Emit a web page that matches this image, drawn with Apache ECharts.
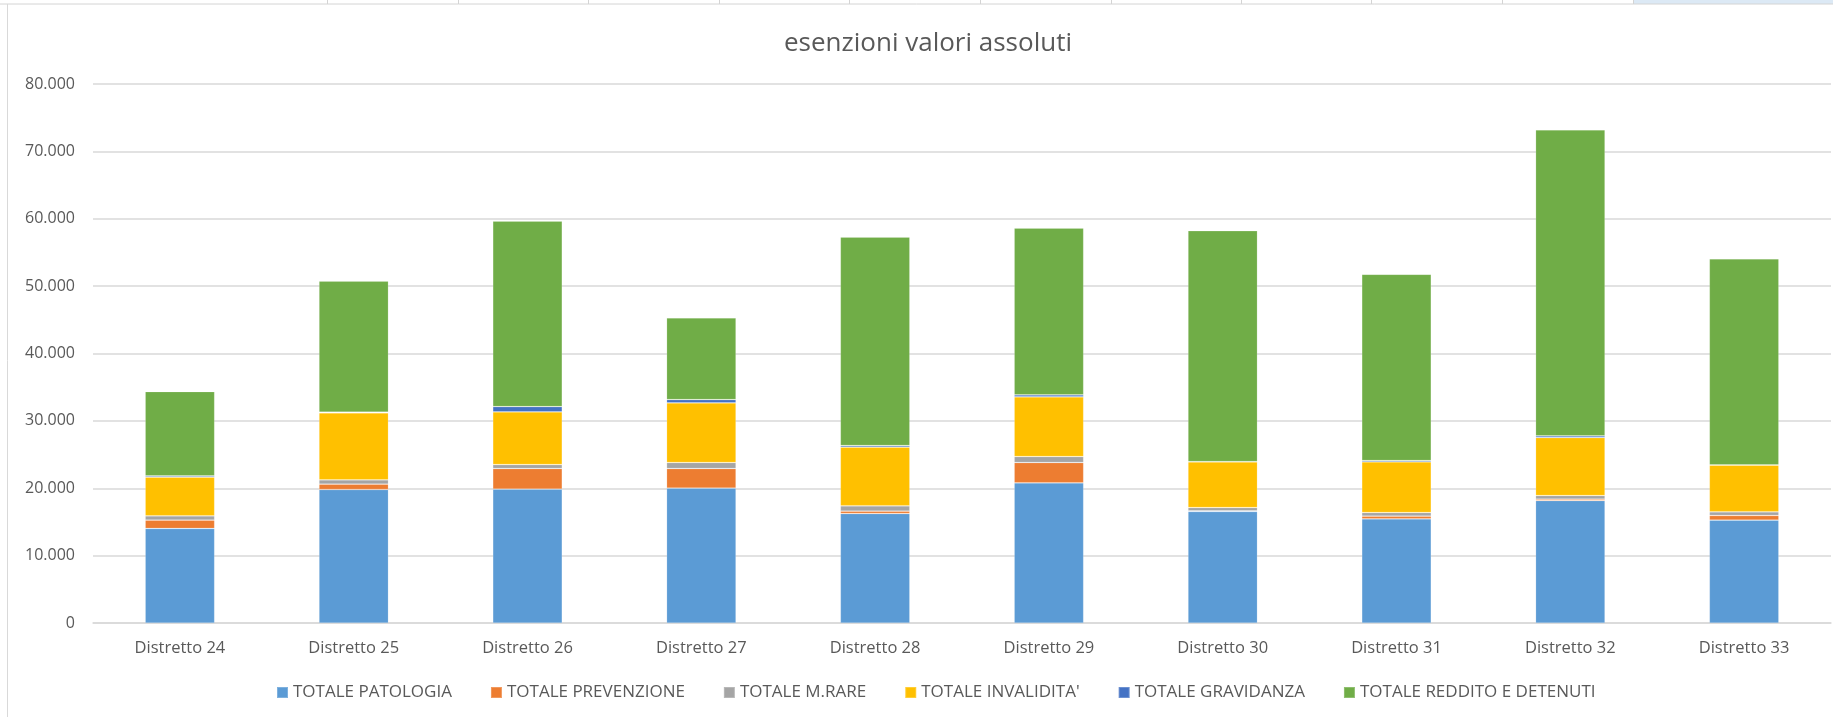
<!DOCTYPE html>
<html>
<head>
<meta charset="utf-8">
<script src="https://cdn.jsdelivr.net/npm/echarts@6/dist/echarts.min.js"></script>
<style>
html,body{margin:0;padding:0;background:#fff;}
#chart{width:1833px;height:717px;}
</style>
</head>
<body>
<div id="chart"></div>
<script>
const categories = ['Distretto 24','Distretto 25','Distretto 26','Distretto 27','Distretto 28','Distretto 29','Distretto 30','Distretto 31','Distretto 32','Distretto 33'];
const patologia   = [14030, 19810, 19870, 20020, 16250, 20810, 16550, 15470, 18180, 15270];
const prevenzione = [1250, 800, 3060, 2910, 360, 3010, 100, 400, 210, 690];
const mrare       = [630, 640, 590, 890, 790, 890, 490, 530, 530, 550];
const invalidita  = [5740, 9940, 7820, 8850, 8700, 8850, 6780, 7520, 8600, 6920];
const gravidanza  = [190, 100, 780, 490, 240, 300, 40, 190, 260, 30];
const reddito     = [12510, 19470, 27540, 12120, 30950, 24760, 34260, 27650, 45420, 30600];
const seriesNames = ['TOTALE PATOLOGIA','TOTALE PREVENZIONE','TOTALE M.RARE',"TOTALE INVALIDITA'",'TOTALE GRAVIDANZA','TOTALE REDDITO E DETENUTI'];
const yTicks = [0, 10000, 20000, 30000, 40000, 50000, 60000, 70000, 80000];

const colors = ['#5B9BD5','#ED7D31','#A5A5A5','#FFC000','#4472C4','#70AD47'];
const dataSets = [patologia, prevenzione, mrare, invalidita, gravidanza, reddito];

const chart = echarts.init(document.getElementById('chart'), null, {renderer:'canvas'});
const font = '"Open Sans", "Noto Sans", sans-serif';

function fmt(v){ return String(v).replace(/\B(?=(\d{3})+(?!\d))/g, '.'); }

const cellXs = [327, 458, 588, 719, 849, 980, 1111, 1241, 1371, 1502, 1633];
const graphics = [
  {type:'rect', shape:{x:1633, y:0, width:200, height:4}, style:{fill:'#dce9f5'}, silent:true},
  {type:'line', shape:{x1:0, y1:4, x2:1833, y2:4}, style:{stroke:'#d4d4d4', lineWidth:1}, silent:true},
  {type:'line', shape:{x1:7.5, y1:4, x2:7.5, y2:717}, style:{stroke:'#d9d9d9', lineWidth:1}, silent:true}
];
cellXs.forEach(x => graphics.push({type:'line', shape:{x1:x+0.5, y1:0, x2:x+0.5, y2:4}, style:{stroke:'#d4d4d4', lineWidth:1}, silent:true}));

chart.setOption({
  animation:false,
  backgroundColor:'#fff',
  color: colors,
  title:{
    text:'esenzioni valori assoluti',
    left:928, top:31, textAlign:'center', padding:0,
    textStyle:{fontFamily:font, fontSize:26, fontWeight:'normal', color:'#595959'}
  },
  legend:{
    data: seriesNames,
    left:276, top:684, padding:0,
    itemWidth:11, itemHeight:11, itemGap:38,
    icon:'rect',
    textStyle:{fontFamily:font, fontSize:17, color:'#595959'}
  },
  grid:{left:93, right:2, top:84, bottom:94, containLabel:false},
  xAxis:{
    type:'category',
    data: categories,
    axisLine:{lineStyle:{color:'#d9d9d9', width:1.5}},
    axisTick:{show:false},
    axisLabel:{fontFamily:font, fontSize:16.5, color:'#595959', margin:17}
  },
  yAxis:{
    type:'value',
    min:yTicks[0], max:yTicks[yTicks.length-1], interval:yTicks[1]-yTicks[0],
    axisLine:{show:false}, axisTick:{show:false},
    splitLine:{lineStyle:{color:'#d9d9d9', width:1.5}},
    axisLabel:{fontFamily:font, fontSize:16, color:'#595959', margin:18, formatter: fmt}
  },
  series: seriesNames.map((n,i)=>({
    name:n, type:'bar', stack:'tot',
    data: dataSets[i],
    barWidth:'40%',
    itemStyle:{color:colors[i], borderColor:'rgba(255,255,255,0.22)', borderWidth:0.75},
    emphasis:{disabled:true}
  })),
  graphic: graphics
});
</script>
</body>
</html>
